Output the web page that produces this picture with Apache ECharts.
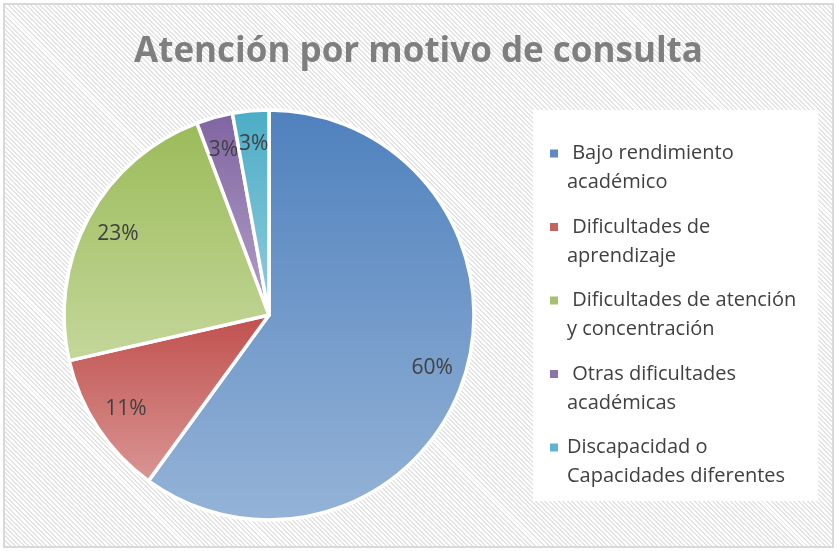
<!DOCTYPE html>
<html>
<head>
<meta charset="utf-8">
<script src="https://cdn.jsdelivr.net/npm/echarts@6/dist/echarts.min.js"></script>
<style>
  body { margin: 0; background: #fff; }
  #wrap { position: relative; width: 837px; height: 551px; }
  #bg {
    position: absolute; left: 3px; top: 3px; right: 3px; bottom: 3px;
    border: 2px solid #d9d9d9;
    background: repeating-linear-gradient(45deg, #e4e4e4 0, #e4e4e4 1.4px, #fff 1.4px, #fff 3.2px);
  }
  #main { position: absolute; left: 0; top: 0; width: 837px; height: 551px; }
</style>
</head>
<body>
<div id="wrap">
  <div id="bg"></div>
  <div id="main"></div>
</div>
<script>
const categories = [
  "Bajo rendimiento académico",
  "Dificultades de aprendizaje",
  "Dificultades de atención y concentración",
  "Otras dificultades académicas",
  "Discapacidad o Capacidades diferentes",
];
// legend text split in two lines like the original
const legendLines = [
  [" Bajo rendimiento", "académico"],
  [" Dificultades de", "aprendizaje"],
  [" Dificultades de atención", "y concentración"],
  [" Otras dificultades", "académicas"],
  ["Discapacidad o", "Capacidades diferentes"],
];
const values = [21, 4, 8, 1, 1];
const topColors = ["#4f81bd", "#c0504d", "#9bbb59", "#8064a2", "#4bacc6"];
const bottomColors = ["#95b3d7", "#d99694", "#c4d79b", "#b3a2c7", "#93cddd"];
const legendColors = ["#5f89c2", "#c7625f", "#a6c26d", "#8d73ad", "#5eb5cd"];

const chart = echarts.init(document.getElementById("main"));

const pieData = categories.map((name, i) => ({
  name: name,
  value: values[i],
  itemStyle: {
    color: new echarts.graphic.LinearGradient(0, 0, 0, 1, [
      { offset: 0, color: topColors[i] },
      { offset: 1, color: bottomColors[i] },
    ]),
  },
}));

const labelData = categories.map((name, i) => ({ name: name, value: values[i] }));

const option = {
  animation: false,
  title: {
    text: "Atención por motivo de consulta",
    left: "center",
    top: 30,
    textStyle: {
      fontFamily: "Open Sans",
      fontWeight: "bold",
      fontSize: 35,
      color: "#7f7f7f",
    },
  },
  legend: {
    orient: "vertical",
    left: 533,
    top: 110,
    padding: [0, 22, 10, 17],
    backgroundColor: "#fff",
    itemWidth: 8,
    itemHeight: 8,
    itemGap: -13.5,
    icon: "rect",
    itemStyle: { borderWidth: 0 },
    data: categories.map((name, i) => ({
      name: name,
      itemStyle: { color: legendColors[i], borderWidth: 0 },
    })),
    // blank first line keeps the marker level with the first text line
    formatter: (name) => {
      const l = legendLines[categories.indexOf(name)];
      return "\n" + l[0] + "\n" + l[1];
    },
    textStyle: {
      fontFamily: "Open Sans",
      fontSize: 20,
      lineHeight: 29,
      color: "#404040",
      padding: [0, 0, 0, 4],
    },
  },
  series: [
    {
      type: "pie",
      center: [269, 315],
      radius: 205,
      startAngle: 90,
      clockwise: true,
      silent: true,
      itemStyle: { borderColor: "#fff", borderWidth: 3.5 },
      label: { show: false },
      labelLine: { show: false },
      data: pieData,
    },
    {
      type: "pie",
      center: [269, 315],
      radius: [132, 205],
      startAngle: 90,
      clockwise: true,
      silent: true,
      itemStyle: { color: "rgba(0,0,0,0)" },
      label: {
        show: true,
        position: "inside",
        fontFamily: "Open Sans",
        fontSize: 21,
        color: "#404040",
        formatter: (p) => Math.round(p.percent) + "%",
      },
      labelLine: { show: false },
      data: labelData,
    },
  ],
};

chart.setOption(option);
</script>
</body>
</html>
